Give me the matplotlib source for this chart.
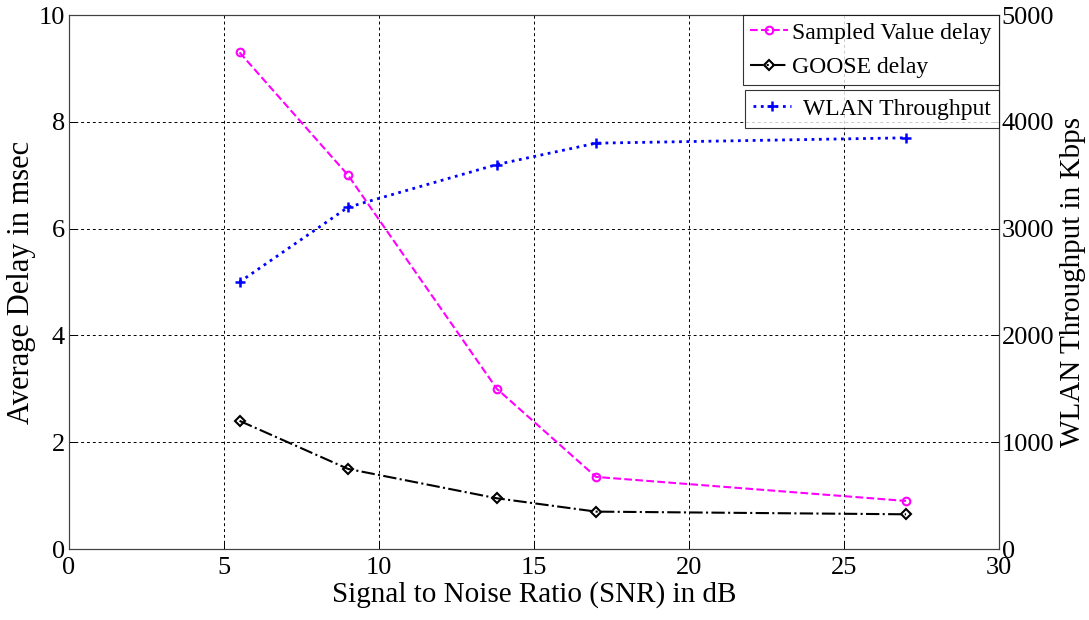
import matplotlib
matplotlib.use("Agg")
import matplotlib.pyplot as plt

plt.rcParams['font.family'] = ['Liberation Serif', 'DejaVu Serif']

# Data
snr_db = [5.5, 9, 13.8, 17, 27]
sv_delay = [9.3, 7.0, 3.0, 1.35, 0.9]
goose_delay = [2.4, 1.5, 0.95, 0.7, 0.65]
wlan_throughput = [2500, 3200, 3600, 3800, 3850]

x_ticks = [0, 5, 10, 15, 20, 25, 30]
delay_ticks = [0, 2, 4, 6, 8, 10]
thr_ticks = [0, 1000, 2000, 3000, 4000, 5000]

fig = plt.figure(figsize=(10.89, 6.2), dpi=100)
ax = fig.add_axes([0.0634, 0.1145, 0.854, 0.8613])
ax2 = ax.twinx()

sv_line, = ax.plot(snr_db, sv_delay, color='#ff00ff', linestyle='--', linewidth=1.5,
                   marker='o', markersize=5.5, markerfacecolor='none', markeredgewidth=1.5,
                   label='Sampled Value delay')
goose_line, = ax.plot(snr_db, goose_delay, color='black', linestyle='-.', linewidth=1.5,
                      marker='D', markersize=5.5, markerfacecolor='none', markeredgewidth=1.5,
                      label='GOOSE delay')
wlan_line, = ax2.plot(snr_db, wlan_throughput, color='#0000ff', linestyle=':', linewidth=2,
                      marker='+', markersize=7, markeredgewidth=1.8,
                      label='WLAN Throughput')

ax.set_xlim(0, 30)
ax.set_ylim(0, 10)
ax2.set_ylim(0, 5000)
ax.set_xticks(x_ticks)
ax.set_yticks(delay_ticks)
ax2.set_yticks(thr_ticks)

ax.grid(True, color='black', linestyle=(0, (3, 3)), linewidth=0.7)

for a in (ax, ax2):
    a.tick_params(direction='in', length=6, width=0.7, labelsize=19, colors='black')
    for s in a.spines.values():
        s.set_color('#404040')
        s.set_linewidth(0.8)
ax.tick_params(axis='x', pad=6)
ax.tick_params(axis='y', pad=3)
ax2.tick_params(axis='y', pad=2)

ax.set_xlabel('Signal to Noise Ratio (SNR) in dB', fontsize=21, labelpad=1)
ax.set_ylabel('Average Delay in msec', fontsize=22, labelpad=2)
ax2.set_ylabel('WLAN Throughput in Kbps', fontsize=21, labelpad=4)

leg1 = ax2.legend(handles=[sv_line, goose_line], loc='upper right',
                  bbox_to_anchor=(0.9174, 0.9758), bbox_transform=fig.transFigure,
                  fontsize=17, frameon=True, fancybox=False, handlelength=1.6,
                  handletextpad=0.2, borderpad=0.3, labelspacing=0.55, borderaxespad=0)
leg1.get_frame().set_edgecolor('black')
leg1.get_frame().set_linewidth(0.8)
ax2.add_artist(leg1)

leg2 = ax2.legend(handles=[wlan_line], loc='upper right',
                  bbox_to_anchor=(0.9174, 0.855), bbox_transform=fig.transFigure,
                  fontsize=17, frameon=True, fancybox=False, handlelength=1.6,
                  handletextpad=0.5, borderpad=0.35, borderaxespad=0)
leg2.get_frame().set_edgecolor('black')
leg2.get_frame().set_linewidth(0.8)

fig.savefig('out.png', dpi=100)
